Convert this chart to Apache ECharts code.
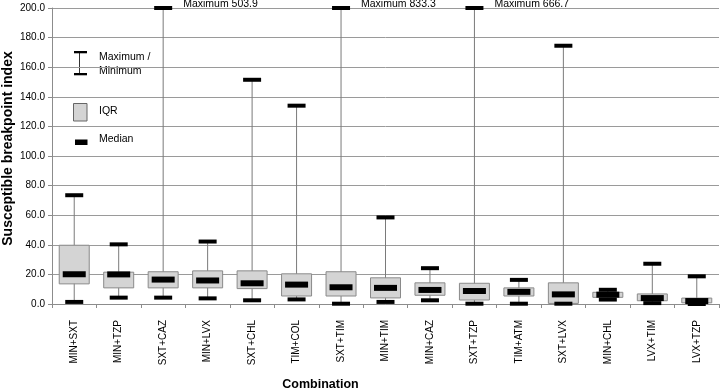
<!DOCTYPE html>
<html>
<head>
<meta charset="utf-8">
<script src="https://cdn.jsdelivr.net/npm/echarts@6/dist/echarts.min.js"></script>
<style>
  html, body { margin: 0; padding: 0; background: #fff; }
  #main { width: 720px; height: 388px; }
</style>
</head>
<body>
<div id="main"></div>
<script>
// combinations on the x axis
const categories = ['MIN+SXT', 'MIN+TZP', 'SXT+CAZ', 'MIN+LVX', 'SXT+CHL', 'TIM+COL', 'SXT+TIM',
  'MIN+TIM', 'MIN+CAZ', 'SXT+TZP', 'TIM+ATM', 'SXT+LVX', 'MIN+CHL', 'LVX+TIM', 'LVX+TZP'];

// values
const minVals    = [1.4, 4.3, 4.3, 3.8, 2.5, 3.1, 0.2, 1.4, 2.5, 0.2, 0.2, 0.2, 3.0, 0.6, 0.0];
const q1Vals     = [13.6, 10.9, 10.9, 10.9, 10.4, 5.4, 5.4, 4.1, 5.9, 2.7, 5.4, 0.4, 4.5, 2.2, 0.8];
const medianVals = [20.1, 20.0, 16.5, 15.9, 14.0, 13.1, 11.3, 10.9, 9.5, 8.8, 8.2, 6.5, 6.3, 4.0, 2.0];
const q3Vals     = [39.7, 21.5, 21.8, 22.4, 22.4, 20.4, 21.8, 17.7, 14.3, 14.0, 10.9, 14.3, 7.9, 6.8, 4.0];
const maxVals    = [73.5, 40.3, 503.9, 42.2, 151.5, 134.0, 833.3, 58.5, 24.2, 666.7, 16.3, 174.5, 9.6, 27.2, 18.7];

const yTicks = { min: 0, max: 200, interval: 20 };

const font = '"Liberation Sans", Arial, sans-serif';

const seriesData = categories.map((c, i) =>
  [i, minVals[i], q1Vals[i], medianVals[i], q3Vals[i], maxVals[i]]);

function renderBox(params, api) {
  const i = api.value(0);
  const lo = api.value(1), q1 = api.value(2), med = api.value(3), q3 = api.value(4), hi = api.value(5);
  const x = api.coord([i, 0])[0];
  const y = v => api.coord([i, Math.min(v, yTicks.max)])[1];

  const children = [
    { type: 'line', shape: { x1: x, y1: y(lo), x2: x, y2: y(hi) },
      style: { stroke: '#7a7a7a', lineWidth: 1 } },
    { type: 'rect', shape: { x: x - 15, y: y(q3), width: 30, height: y(q1) - y(q3) },
      style: { fill: '#d4d4d4', stroke: '#8a8a8a', lineWidth: 1 } },
    { type: 'rect', shape: { x: x - 9, y: y(lo) - 2, width: 18, height: 4 }, style: { fill: '#000' } },
    { type: 'rect', shape: { x: x - 9, y: y(hi) - 2, width: 18, height: 4 }, style: { fill: '#000' } },
    { type: 'rect', shape: { x: x - 11.5, y: y(med) - 3, width: 23, height: 6 }, style: { fill: '#000' } }
  ];
  if (hi > yTicks.max) {
    children.push({
      type: 'text',
      style: { text: 'Maximum ' + hi.toFixed(1), x: x + 20, y: y(hi) - 3.5,
        fill: '#000', fontSize: 10.5, fontFamily: font, align: 'left', verticalAlign: 'middle' }
    });
  }
  return { type: 'group', children };
}

const legendText = (text, x, y) => ({
  type: 'text', left: x, top: y - 5,
  style: { text, fill: '#000', fontSize: 10.5, fontFamily: font }
});

let option = {
  animation: false,
  grid: { left: 52, right: 1, top: 8, bottom: 84, outerBoundsMode: 'none', containLabel: false },
  xAxis: {
    type: 'category',
    data: categories,
    boundaryGap: true,
    name: 'Combination',
    nameLocation: 'middle',
    nameGap: 74,
    nameMoveOverlap: false,
    nameTextStyle: {
      fontFamily: font,
      fontWeight: 'bold', fontSize: 12.5, color: '#000',
      padding: [0, 130, 0, 0]
    },
    axisLine: { lineStyle: { color: '#8c8c8c' } },
    axisTick: { show: true, length: 4, lineStyle: { color: '#8c8c8c' } },
    axisLabel: { rotate: 90, margin: 16, fontSize: 10, fontFamily: font, color: '#000', interval: 0 }
  },
  yAxis: {
    type: 'value',
    min: yTicks.min,
    max: yTicks.max,
    interval: yTicks.interval,
    name: 'Susceptible breakpoint index',
    nameLocation: 'middle',
    nameGap: 37,
    nameMoveOverlap: false,
    nameTextStyle: {
      fontFamily: font, fontWeight: 'bold', fontSize: 14, color: '#000',
      padding: [0, 0, 0, 15]
    },
    axisLine: { show: true, lineStyle: { color: '#8c8c8c' } },
    axisTick: { show: true, length: 4, lineStyle: { color: '#8c8c8c' } },
    axisLabel: { margin: 7, fontSize: 10, fontFamily: font, color: '#000',
      formatter: v => v.toFixed(1) },
    splitLine: { show: true, lineStyle: { color: '#9a9a9a', width: 1 } }
  },
  graphic: [
    // legend block, top left of the plot
    { type: 'line', shape: { x1: 79.5, y1: 52, x2: 79.5, y2: 74 }, style: { stroke: '#333', lineWidth: 1 } },
    { type: 'rect', shape: { x: 74, y: 51, width: 13, height: 2.3 }, style: { fill: '#000' } },
    { type: 'rect', shape: { x: 74, y: 73, width: 13, height: 2.3 }, style: { fill: '#000' } },
    legendText('Maximum /', 99, 57),
    legendText('Minimum', 99, 71),
    { type: 'rect', shape: { x: 73.5, y: 103.5, width: 13.5, height: 17.5 },
      style: { fill: '#d4d4d4', stroke: '#666', lineWidth: 1 } },
    legendText('IQR', 99, 111),
    { type: 'rect', shape: { x: 75, y: 139.5, width: 12.5, height: 5.5 }, style: { fill: '#000' } },
    legendText('Median', 99, 139)
  ],
  series: [
    {
      type: 'custom',
      clip: false,
      renderItem: renderBox,
      encode: { x: 0, y: [1, 2, 3, 4, 5] },
      data: seriesData
    }
  ]
};

let myChart = echarts.init(document.getElementById('main'));
myChart.setOption(option);
</script>
</body>
</html>
